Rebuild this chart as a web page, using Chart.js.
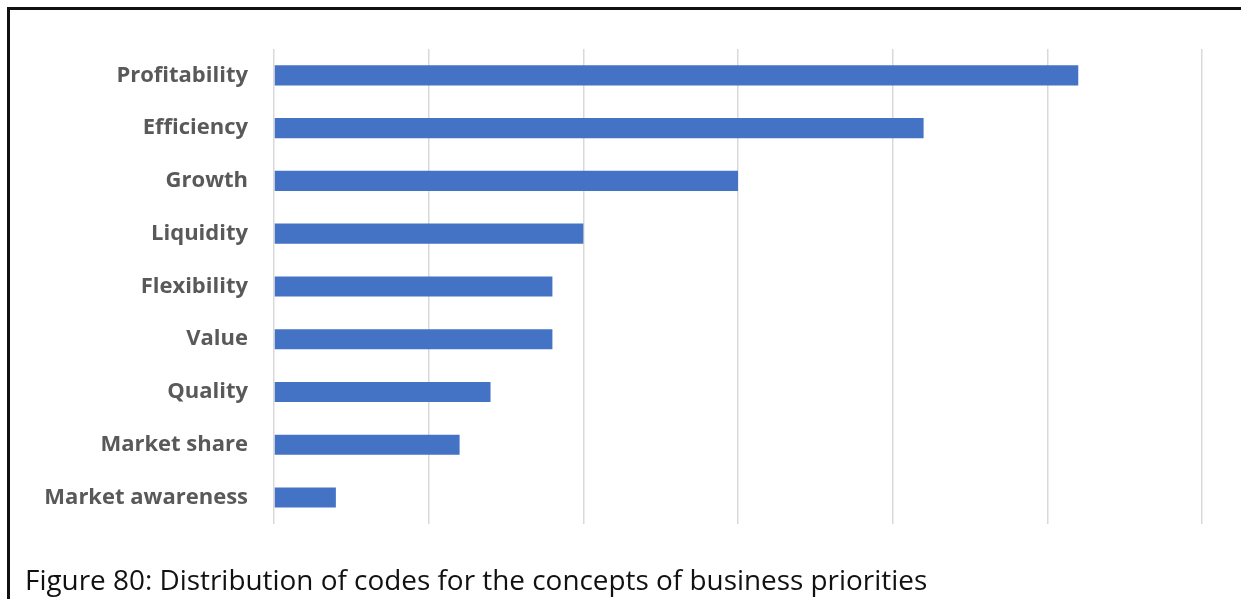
<!DOCTYPE html>
<html>
<head>
<meta charset="utf-8">
<script src="https://cdn.jsdelivr.net/npm/chart.js@4/dist/chart.umd.min.js"></script>
<style>
    html, body { margin: 0; padding: 0; background: #fff; }
    body { width: 1241px; height: 599px; position: relative; overflow: hidden; }
    .frame {
        position: absolute; left: 7px; top: 7px; right: -10px; bottom: -10px;
        border-left: 3px solid #111; border-top: 3px solid #111;
    }
    .chart-box { position: absolute; left: 0; top: 0; width: 1241px; height: 563px; }
    .caption {
        position: absolute; left: 25px; top: 560px;
        font-family: 'Open Sans', sans-serif; font-size: 27.9px; color: #111; white-space: nowrap;
    }
</style>
</head>
<body>
<div class="frame"></div>
<div class="chart-box"><canvas id="prioritiesChart"></canvas></div>
<div class="caption">Figure 80: Distribution of codes for the concepts of business priorities</div>
<script>
// Business priority concepts and their code counts
const concepts = ['Profitability', 'Efficiency', 'Growth', 'Liquidity', 'Flexibility', 'Value', 'Quality', 'Market share', 'Market awareness'];
const codeCounts = [26, 21, 15, 10, 9, 9, 7, 6, 2];
const axisMax = 30;
const axisStep = 5;

document.addEventListener('DOMContentLoaded', function () {
    const ctx = document.getElementById('prioritiesChart').getContext('2d');
    new Chart(ctx, {
        type: 'bar',
        data: {
            labels: concepts,
            datasets: [
                {
                    data: codeCounts,
                    backgroundColor: '#4472c4',
                    barPercentage: 0.76,
                    categoryPercentage: 0.5,
                },
            ],
        },
        options: {
            indexAxis: 'y',
            responsive: true,
            maintainAspectRatio: false,
            animation: false,
            layout: { padding: { left: 0, right: 39, top: 49, bottom: 16 } },
            plugins: { legend: { display: false }, tooltip: { enabled: false } },
            scales: {
                x: {
                    min: 0,
                    max: axisMax,
                    ticks: { stepSize: axisStep, display: false },
                    grid: { color: '#d9d9d9', lineWidth: 1.5, drawTicks: false },
                    border: { display: false },
                },
                y: {
                    grid: { display: false, drawTicks: false },
                    border: { display: false },
                    ticks: {
                        padding: 26,
                        color: '#595959',
                        font: { family: 'Open Sans', size: 22, weight: 'bold' },
                    },
                    afterFit: function (scale) {
                        scale.width = 274;
                    },
                },
            },
        },
    });
});
</script>
</body>
</html>
